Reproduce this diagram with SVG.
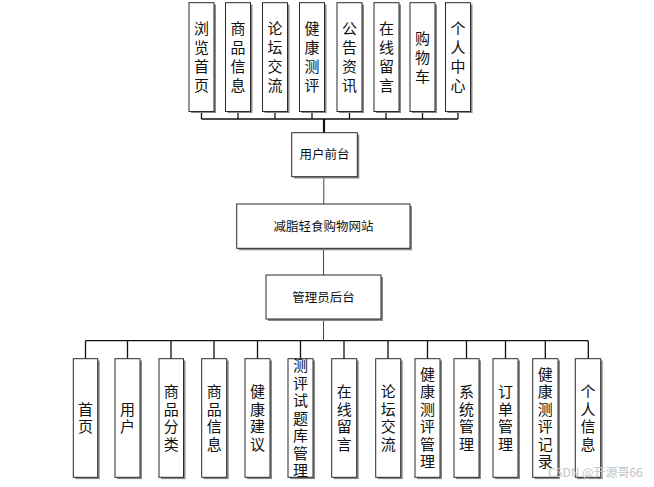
<svg xmlns="http://www.w3.org/2000/svg" width="654" height="487" viewBox="0 0 654 487">
<style>
.sh{fill:#8a8a8a}
.bx{fill:#ffffff;stroke:#2a2a2a;stroke-width:1}
.vt{font-family:"Noto Sans CJK SC","Noto Sans",sans-serif;font-size:15px;fill:#111;text-anchor:middle;writing-mode:vertical-rl;letter-spacing:4px}
.vb{font-family:"Noto Sans CJK SC","Noto Sans",sans-serif;font-size:15px;fill:#111;text-anchor:middle;writing-mode:vertical-rl;letter-spacing:2.5px}
.ht{font-family:"Noto Sans CJK SC","Noto Sans",sans-serif;font-size:12.5px;fill:#111;text-anchor:middle}
.ln{stroke:#111;stroke-width:1.3;fill:none}
.lg{stroke:#444;stroke-width:1;fill:none}
.wm{font-family:"Noto Sans CJK SC","Noto Sans",sans-serif;font-size:12px;fill:#c4c4c4}
</style>
<rect width="654" height="487" fill="#ffffff"/>
<g id="connectors">
<path class="ln" d="M201.5 111.5V119M238 111.5V119M275 111.5V119M312 111.5V119M349.5 111.5V119M386 111.5V119M422.5 111.5V119M458 111.5V119M201.5 119H458"/>
<path stroke="#111" stroke-width="2.2" d="M324 119V133"/>
<path class="lg" d="M323.8 176.7V204M323.5 248.3V275M323.5 319V340.7"/>
<path class="ln" d="M85.5 340.7H588.3M85.5 340.7V358.7M127.5 340.7V358.7M171 340.7V358.7M214 340.7V358.7M257.5 340.7V358.7M300.5 340.7V358.7M344 340.7V358.7M388 340.7V358.7M427.5 340.7V358.7M466.5 340.7V358.7M505.5 340.7V358.7M545.3 340.7V358.7M588.3 340.7V358.7"/>
</g>
<g id="top1"><rect class="sh" x="191" y="4.5" width="25" height="108.5"/><rect class="bx" x="189" y="2.7" width="25" height="108.8"/><text class="vt" x="201.5" y="59">浏览首页</text></g>
<g id="top2"><rect class="sh" x="227.5" y="4.5" width="25" height="108.5"/><rect class="bx" x="225.5" y="2.7" width="25" height="108.8"/><text class="vt" x="238" y="59">商品信息</text></g>
<g id="top3"><rect class="sh" x="264.5" y="4.5" width="25" height="108.5"/><rect class="bx" x="262.5" y="2.7" width="25" height="108.8"/><text class="vt" x="275" y="59">论坛交流</text></g>
<g id="top4"><rect class="sh" x="301.5" y="4.5" width="25" height="108.5"/><rect class="bx" x="299.5" y="2.7" width="25" height="108.8"/><text class="vt" x="312" y="59">健康测评</text></g>
<g id="top5"><rect class="sh" x="339" y="4.5" width="25" height="108.5"/><rect class="bx" x="337" y="2.7" width="25" height="108.8"/><text class="vt" x="349.5" y="59">公告资讯</text></g>
<g id="top6"><rect class="sh" x="376" y="4.5" width="25" height="108.5"/><rect class="bx" x="374" y="2.7" width="25" height="108.8"/><text class="vt" x="386.5" y="59">在线留言</text></g>
<g id="top7"><rect class="sh" x="412" y="4.5" width="25" height="108.5"/><rect class="bx" x="410" y="2.7" width="25" height="108.8"/><text class="vt" x="422.5" y="59">购物车</text></g>
<g id="top8"><rect class="sh" x="447.5" y="4.5" width="25" height="108.5"/><rect class="bx" x="445.5" y="2.7" width="25" height="108.8"/><text class="vt" x="458" y="59">个人中心</text></g>
<g id="user-front"><rect class="sh" x="293.7" y="134.5" width="65.6" height="44"/><rect class="bx" x="291.7" y="132.7" width="65.6" height="44"/><text class="ht" x="324.5" y="159.3">用户前台</text></g>
<g id="site"><rect class="sh" x="238.7" y="206" width="173.3" height="44.3"/><rect class="bx" x="236.7" y="204" width="173.3" height="44.3"/><text class="ht" x="323.5" y="230.6">减脂轻食购物网站</text></g>
<g id="admin"><rect class="sh" x="268" y="277" width="115" height="44"/><rect class="bx" x="266" y="275" width="115" height="44"/><text class="ht" x="323.5" y="301.5">管理员后台</text></g>
<g id="b1"><rect class="sh" x="75.3" y="360.5" width="24.4" height="118.6"/><rect class="bx" x="73.3" y="358.7" width="24.4" height="118.6"/><text class="vb" x="85.5" y="419.3">首页</text></g>
<g id="b2"><rect class="sh" x="117" y="360.5" width="25" height="118.6"/><rect class="bx" x="115" y="358.7" width="25" height="118.6"/><text class="vb" x="127.5" y="419.3">用户</text></g>
<g id="b3"><rect class="sh" x="161" y="360.5" width="24.5" height="118.6"/><rect class="bx" x="159" y="358.7" width="24.5" height="118.6"/><text class="vb" x="171.2" y="419.3">商品分类</text></g>
<g id="b4"><rect class="sh" x="203.7" y="360.5" width="25" height="118.6"/><rect class="bx" x="201.7" y="358.7" width="25" height="118.6"/><text class="vb" x="214.2" y="419.3">商品信息</text></g>
<g id="b5"><rect class="sh" x="247" y="360.5" width="25" height="118.6"/><rect class="bx" x="245" y="358.7" width="25" height="118.6"/><text class="vb" x="257.5" y="419.3">健康建议</text></g>
<g id="b6"><rect class="sh" x="290" y="360.5" width="25" height="118.6"/><rect class="bx" x="288" y="358.7" width="25" height="118.6"/><text class="vb" x="300.5" y="419.3">测评试题库管理</text></g>
<g id="b7"><rect class="sh" x="333.7" y="360.5" width="25" height="118.6"/><rect class="bx" x="331.7" y="358.7" width="25" height="118.6"/><text class="vb" x="344.2" y="419.3">在线留言</text></g>
<g id="b8"><rect class="sh" x="377.7" y="360.5" width="25" height="118.6"/><rect class="bx" x="375.7" y="358.7" width="25" height="118.6"/><text class="vb" x="388.2" y="419.3">论坛交流</text></g>
<g id="b9"><rect class="sh" x="417" y="360.5" width="25" height="118.6"/><rect class="bx" x="415" y="358.7" width="25" height="118.6"/><text class="vb" x="427.5" y="419.3">健康测评管理</text></g>
<g id="b10"><rect class="sh" x="456" y="360.5" width="25" height="118.6"/><rect class="bx" x="454" y="358.7" width="25" height="118.6"/><text class="vb" x="466.5" y="419.3">系统管理</text></g>
<g id="b11"><rect class="sh" x="495" y="360.5" width="25" height="118.6"/><rect class="bx" x="493" y="358.7" width="25" height="118.6"/><text class="vb" x="505.5" y="419.3">订单管理</text></g>
<g id="b12"><rect class="sh" x="534.7" y="360.5" width="25.3" height="118.6"/><rect class="bx" x="532.7" y="358.7" width="25.3" height="118.6"/><text class="vb" x="545.3" y="419.3">健康测评记录</text></g>
<g id="b13"><rect class="sh" x="577.3" y="360.5" width="25.4" height="118.6"/><rect class="bx" x="575.3" y="358.7" width="25.4" height="118.6"/><text class="vb" x="588" y="419.3">个人信息</text></g>
<text class="wm" x="548" y="476.5">CSDN @开源哥66</text>
</svg>
